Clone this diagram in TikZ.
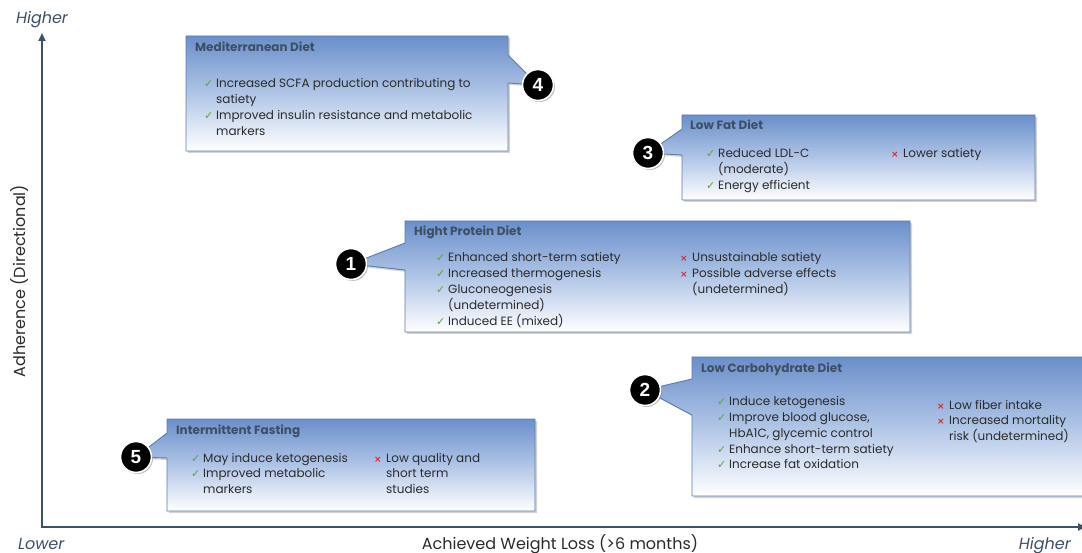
\documentclass[tikz,border=0pt]{standalone}
\usepackage{fontspec}
\setmainfont{Poppins}
\newfontfamily\symf{DejaVu Sans}
\newfontfamily\numf{Liberation Sans}
\usetikzlibrary{shadows,arrows.meta}
\definecolor{boxtop}{HTML}{6A8FCA}
\definecolor{boxmid}{HTML}{B0C5E6}
\definecolor{boxline}{HTML}{5B7CB0}
\definecolor{titlec}{HTML}{3F4E63}
\definecolor{bodyc}{HTML}{2B2B2B}
\definecolor{chk}{HTML}{5FA336}
\definecolor{xc}{HTML}{E02424}
\definecolor{axisc}{HTML}{3D4F6B}
\pgfdeclarelayer{bg}
\pgfsetlayers{bg,main}
\newcommand\ck{\makebox[12pt][l]{\textcolor{chk}{\symf\fontsize{11}{11}\selectfont ✓}}}
\newcommand\xx{\makebox[12pt][l]{\textcolor{xc}{\symf\bfseries\fontsize{9}{9}\selectfont ×}}}
\newcommand\ind{\hspace*{12pt}}
\tikzset{
  callout/.style={draw=boxline, line width=0.9pt, top color=boxtop, bottom color=white, middle color=boxmid,
    drop shadow={opacity=0.35, shadow xshift=2pt, shadow yshift=-2pt}},
  numcirc/.style={circle, fill=black, draw=white, line width=1.6pt, minimum size=31pt, inner sep=0pt,
    text=white, font=\numf\fontsize{19}{19}\bfseries\selectfont,
    drop shadow={opacity=0.5, shadow xshift=1.5pt, shadow yshift=-1.5pt}},
  ttl/.style={anchor=base west, inner sep=0pt, text=titlec, font=\fontsize{12}{13}\bfseries\selectfont},
  body/.style={anchor=base west, inner sep=0pt, text=bodyc, font=\fontsize{12}{15.7}\selectfont},
  axis/.style={draw=axisc, line width=2.2pt, {Triangle[length=8pt,width=7pt]}-{Triangle[length=8pt,width=7pt]}},
  axlab/.style={inner sep=0pt, text=bodyc, font=\fontsize{16}{18}\selectfont},
  axend/.style={inner sep=0pt, text=axisc, font=\fontsize{16}{18}\itshape\selectfont},
}
\begin{document}
\begin{tikzpicture}[x=1pt,y=-1pt]
\useasboundingbox (0,0) rectangle (1082,553);
% axes
\coordinate (O) at (42,527);
\coordinate (ytop) at (42,33);
\coordinate (xend) at (1086,527);
\draw[axis] (ytop) -- (O) -- (xend);
\node[axend, anchor=base] (hy) at (42,24) {Higher};
\node[axend, anchor=base west] (lx) at (18,549) {Lower};
\node[axend, anchor=base east] (hx) at (1071,549) {Higher};
\node[axlab, anchor=base] (xl) at (560,549) {Achieved Weight Loss (>6 months)};
\node[axlab, rotate=90] (yl) at (20,281) {Adherence (Directional)};

% number circles
\node[numcirc] (c4) at (538,85) {4};
\node[numcirc] (c3) at (648,153) {3};
\node[numcirc] (c1) at (351,264) {1};
\node[numcirc] (c2) at (645,390) {2};
\node[numcirc] (c5) at (136,457) {5};

% callouts
\begin{pgfonlayer}{bg}
\path[callout] (186,36) -- (508,36) -- (508,55) -- (c4.center) -- (508,83) -- (508,151) -- (186,151) -- cycle;
\path[callout] (682,115) -- (1035,115) -- (1035,200) -- (682,200) -- (682,155) -- (c3.center) -- (682,129) -- cycle;
\path[callout] (405,221) -- (910,221) -- (910,332) -- (405,332) -- (405,270) -- (c1.center) -- (405,243) -- cycle;
\path[callout] (692,357) -- (1095,357) -- (1095,496) -- (692,496) -- (692,415) -- (c2.center) -- (692,379) -- cycle;
\path[callout] (167,419) -- (535,419) -- (535,511) -- (167,511) -- (167,458) -- (c5.center) -- (167,433) -- cycle;
\end{pgfonlayer}

% Mediterranean
\node[ttl] (t4) at (195,52) {Mediterranean Diet};
\node[body] (m4) at (204,88) {\begin{tabular}[t]{@{}l@{}}
\ck Increased SCFA production contributing to\\
\ind satiety\\
\ck Improved insulin resistance and metabolic\\
\ind markers\end{tabular}};

% Low fat
\node[ttl] (t3) at (690,130) {Low Fat Diet};
\node[body] (l3) at (706,158) {\begin{tabular}[t]{@{}l@{}}
\ck Reduced LDL-C\\
\ind (moderate)\\
\ck Energy efficient\end{tabular}};
\node[body] (r3) at (891,158) {\begin{tabular}[t]{@{}l@{}}
\xx Lower satiety\end{tabular}};

% High protein
\node[ttl] (t1) at (414,236) {Hight Protein Diet};
\node[body] (l1) at (436,262) {\begin{tabular}[t]{@{}l@{}}
\ck Enhanced short-term satiety\\
\ck Increased thermogenesis\\
\ck Gluconeogenesis\\
\ind (undetermined)\\
\ck Induced EE (mixed)\end{tabular}};
\node[body] (r1) at (680,262) {\begin{tabular}[t]{@{}l@{}}
\xx Unsustainable satiety\\
\xx Possible adverse effects\\
\ind (undetermined)\end{tabular}};

% Low carb
\node[ttl] (t2) at (701,373) {Low Carbohydrate Diet};
\node[body] (l2) at (717,406) {\begin{tabular}[t]{@{}l@{}}
\ck Induce ketogenesis\\
\ck Improve blood glucose,\\
\ind HbA1C, glycemic control\\
\ck Enhance short-term satiety\\
\ck Increase fat oxidation\end{tabular}};
\node[body] (r2) at (937,409) {\begin{tabular}[t]{@{}l@{}}
\xx Low fiber intake\\
\xx Increased mortality\\
\ind risk (undetermined)\end{tabular}};

% Intermittent fasting
\node[ttl] (t5) at (176,434) {Intermittent Fasting};
\node[body] (l5) at (191,462) {\begin{tabular}[t]{@{}l@{}}
\ck May induce ketogenesis\\
\ck Improved metabolic\\
\ind markers\end{tabular}};
\node[body] (r5) at (374,462) {\begin{tabular}[t]{@{}l@{}}
\xx Low quality and\\
\ind short term\\
\ind studies\end{tabular}};
\end{tikzpicture}
\end{document}
